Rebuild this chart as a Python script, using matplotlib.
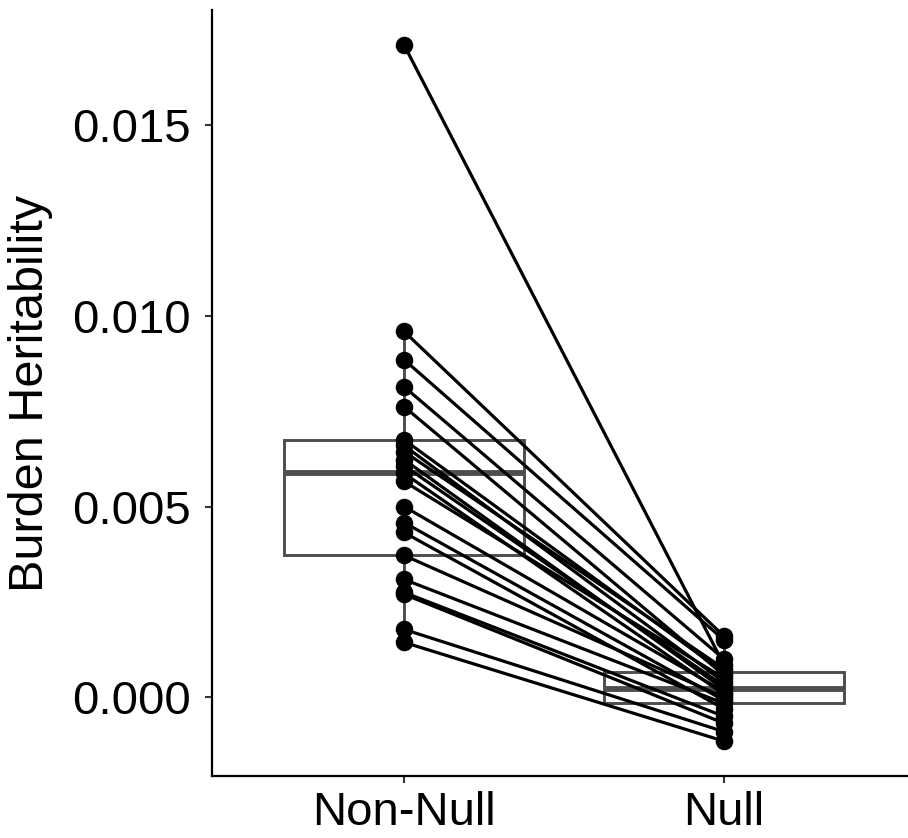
import numpy as np
import matplotlib
matplotlib.use("Agg")
import matplotlib.pyplot as plt

plt.rcParams['font.family'] = ['Liberation Sans', 'DejaVu Sans']

# paired burden heritability estimates (one row per trait)
groups = ["Non-Null", "Null"]
non_null = [0.0171, 0.00959, 0.00885, 0.00814, 0.00762, 0.00675, 0.00660,
            0.00644, 0.00623, 0.00607, 0.00587, 0.00566, 0.00500, 0.00458,
            0.00432, 0.00372, 0.00309, 0.00275, 0.00270, 0.00178, 0.00144]
null = [0.00085, 0.00160, 0.00150, 0.00100, 0.00058, 0.00065, 0.00040,
        0.00075, 0.00021, 0.00030, 0.00008, 0.00050, 0.00015, -0.00008,
        -0.00030, 0.00000, -0.00016, -0.00050, -0.00068, -0.00090, -0.00115]
yticks = [0.000, 0.005, 0.010, 0.015]

fig = plt.figure(figsize=(9.08, 8.38), dpi=100)
ax = fig.add_axes([212 / 908, 62 / 838, 696 / 908, 766 / 838])

box_col = "#4d4d4d"
ax.boxplot([non_null, null], positions=[1, 2], widths=0.75, whis=1.5,
           showfliers=False, showcaps=False, patch_artist=True,
           boxprops=dict(facecolor="white", edgecolor=box_col, linewidth=2.1),
           whiskerprops=dict(color=box_col, linewidth=2.1),
           medianprops=dict(color=box_col, linewidth=4.2),
           zorder=1)

for a, b in zip(non_null, null):
    ax.plot([1, 2], [a, b], color="black", linewidth=2.3, zorder=2)
ax.scatter(np.ones(len(non_null)), non_null, s=135, color="black", zorder=3)
ax.scatter(np.full(len(null), 2.0), null, s=135, color="black", zorder=3)

# ggplot-like 5% expansion on y, 0.6 on discrete x
lo = min(min(non_null), min(null))
hi = max(max(non_null), max(null))
pad = 0.05 * (hi - lo)
ax.set_ylim(lo - pad, hi + pad)
ax.set_xlim(0.4, 2.575)

ax.set_xticks([1, 2])
ax.set_xticklabels(groups)
ax.set_yticks(yticks)
ax.set_yticklabels([f"{v:.3f}" for v in yticks])
ax.tick_params(axis="both", labelsize=34, colors="#333333", labelcolor="black",
               length=5, width=1.5)
ax.tick_params(axis="y", pad=10)
ax.tick_params(axis="x", pad=6)

ax.set_ylabel("Burden Heritability", fontsize=35, labelpad=14)

for side in ["top", "right"]:
    ax.spines[side].set_visible(False)
for side in ["left", "bottom"]:
    ax.spines[side].set_linewidth(1.6)
    ax.spines[side].set_color("black")

fig.savefig("out.png", dpi=100)
